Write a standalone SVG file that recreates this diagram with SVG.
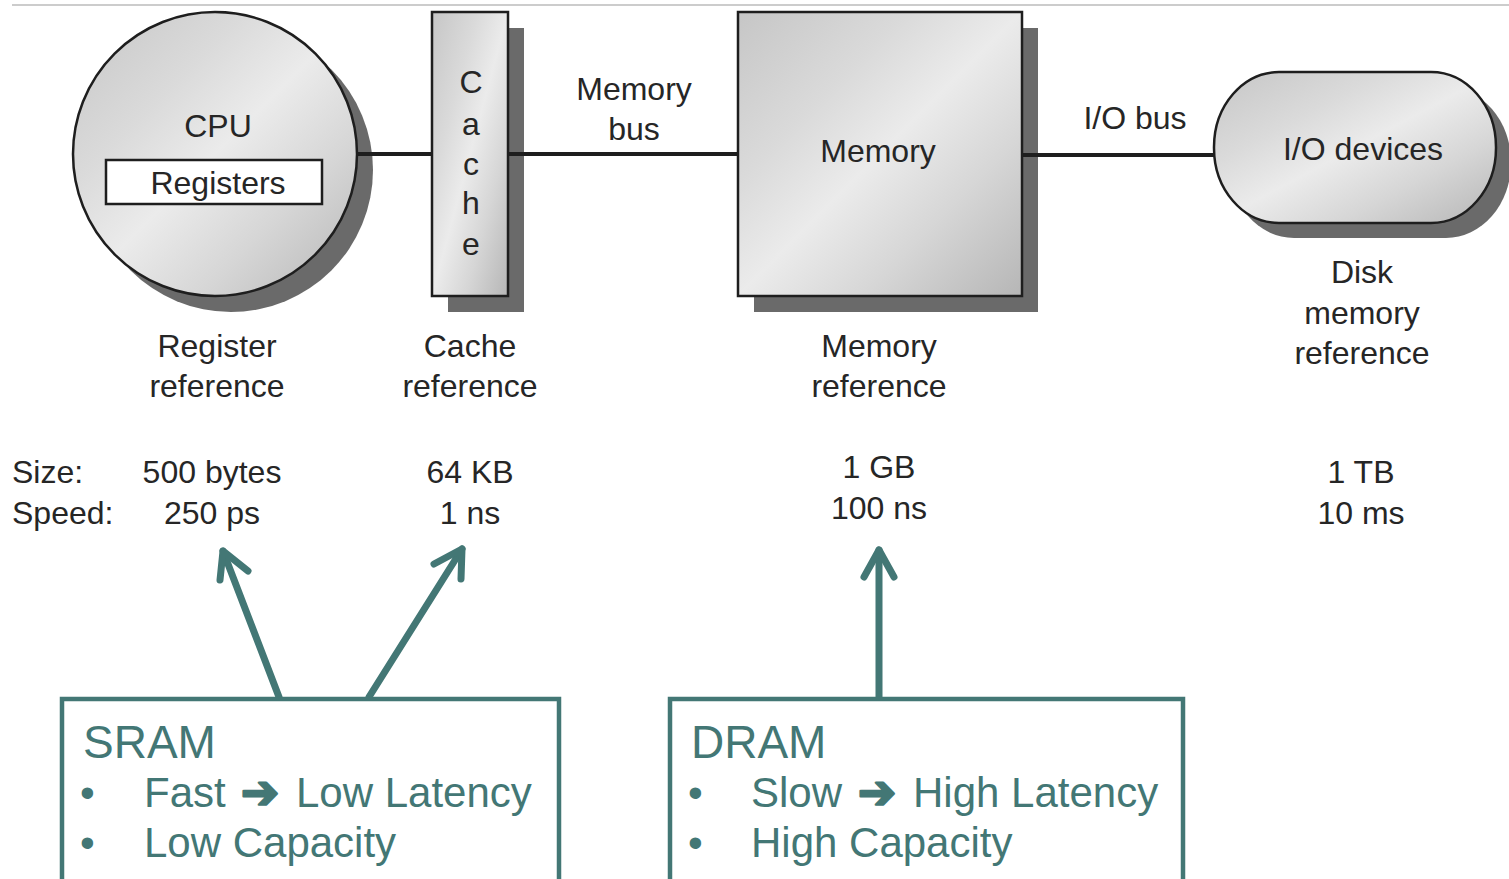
<svg xmlns="http://www.w3.org/2000/svg" width="1509" height="879" viewBox="0 0 1509 879">
  <defs>
    <linearGradient id="metal" x1="0" y1="0" x2="1" y2="1">
      <stop offset="0" stop-color="#c6c6c6"/>
      <stop offset="0.3" stop-color="#dadada"/>
      <stop offset="0.5" stop-color="#ebebeb"/>
      <stop offset="0.72" stop-color="#d6d6d6"/>
      <stop offset="1" stop-color="#b6b6b6"/>
    </linearGradient>
    <style>
      .shadow { fill: #6a6a6a; }
      .body { fill: url(#metal); stroke: #1e1e1e; stroke-width: 2.5; }
      .bus { stroke: #1e1e1e; stroke-width: 4; fill: none; }
      .lbl { font-family: "Liberation Sans", Arial, sans-serif; font-size: 32px; fill: #262626; }
      .mid { text-anchor: middle; }
      .arrow { stroke: #437775; stroke-width: 7; fill: none; stroke-linecap: round; stroke-linejoin: round; }
      .box { stroke: #437775; stroke-width: 4.5; fill: #ffffff; }
      .head { font-family: "Liberation Sans", Arial, sans-serif; font-size: 46px; fill: #437775; }
      .item { font-family: "Liberation Sans", Arial, sans-serif; font-size: 42px; fill: #437775; }
      .sym { font-family: "DejaVu Sans", sans-serif; font-weight: bold; font-size: 46px; fill: #437775; stroke: #437775; stroke-width: 2.5; stroke-linejoin: round; }
    </style>
  </defs>

  <!-- rule across the top -->
  <line x1="12" y1="5" x2="1509" y2="5" stroke="#cccccc" stroke-width="2"/>

  <g id="cpu">
    <circle class="shadow" cx="231" cy="170" r="142"/>
    <circle class="body" cx="215" cy="154" r="142"/>
    <text class="lbl mid" x="218" y="137">CPU</text>
    <rect x="106" y="160" width="216" height="44" fill="#ffffff" stroke="#1e1e1e" stroke-width="2.5"/>
    <text class="lbl mid" x="218" y="194">Registers</text>
  </g>

  <g id="cache">
    <rect class="shadow" x="448" y="28" width="76" height="284"/>
    <rect class="body" x="432" y="12" width="76" height="284"/>
    <text class="lbl mid" x="471" y="93">C</text>
    <text class="lbl mid" x="471" y="135">a</text>
    <text class="lbl mid" x="471" y="175">c</text>
    <text class="lbl mid" x="471" y="214">h</text>
    <text class="lbl mid" x="471" y="255">e</text>
  </g>

  <g id="memory-bus-label">
    <text class="lbl mid" x="634" y="100">Memory</text>
    <text class="lbl mid" x="634" y="140">bus</text>
  </g>

  <g id="memory">
    <rect class="shadow" x="754" y="28" width="284" height="284"/>
    <rect class="body" x="738" y="12" width="284" height="284"/>
    <text class="lbl mid" x="878" y="162">Memory</text>
  </g>

  <g id="io-bus-label">
    <text class="lbl mid" x="1135" y="129">I/O bus</text>
  </g>

  <g id="io-devices">
    <rect class="shadow" x="1229" y="87" width="282" height="151" rx="65" ry="75"/>
    <rect class="body" x="1214" y="72" width="282" height="151" rx="65" ry="75"/>
    <text class="lbl mid" x="1363" y="160">I/O devices</text>
  </g>

  <!-- buses, drawn over the drop shadows -->
  <g id="connectors">
    <line class="bus" x1="356" y1="154" x2="432" y2="154"/>
    <line class="bus" x1="508" y1="154" x2="738" y2="154"/>
    <line class="bus" x1="1022" y1="155" x2="1214" y2="155"/>
  </g>

  <!-- reference captions -->
  <g id="captions">
    <text class="lbl mid" x="217" y="357">Register</text>
    <text class="lbl mid" x="217" y="397">reference</text>
    <text class="lbl mid" x="470" y="357">Cache</text>
    <text class="lbl mid" x="470" y="397">reference</text>
    <text class="lbl mid" x="879" y="357">Memory</text>
    <text class="lbl mid" x="879" y="397">reference</text>
    <text class="lbl mid" x="1362" y="283">Disk</text>
    <text class="lbl mid" x="1362" y="324">memory</text>
    <text class="lbl mid" x="1362" y="364">reference</text>
  </g>

  <!-- size and speed figures -->
  <g id="figures">
    <text class="lbl" x="12" y="483">Size:</text>
    <text class="lbl" x="12" y="524">Speed:</text>
    <text class="lbl mid" x="212" y="483">500 bytes</text>
    <text class="lbl mid" x="212" y="524">250 ps</text>
    <text class="lbl mid" x="470" y="483">64 KB</text>
    <text class="lbl mid" x="470" y="524">1 ns</text>
    <text class="lbl mid" x="879" y="478">1 GB</text>
    <text class="lbl mid" x="879" y="519">100 ns</text>
    <text class="lbl mid" x="1361" y="483">1 TB</text>
    <text class="lbl mid" x="1361" y="524">10 ms</text>
  </g>

  <!-- pointers from the technology boxes -->
  <g id="pointers">
    <line class="arrow" x1="279" y1="697" x2="223" y2="551"/>
    <polyline class="arrow" points="220,580 223,551 248,571"/>
    <line class="arrow" x1="369" y1="697" x2="462" y2="549"/>
    <polyline class="arrow" points="434,564 462,549 461,579"/>
    <line class="arrow" x1="879" y1="697" x2="879" y2="550"/>
    <polyline class="arrow" points="864,577 879,550 894,577"/>
  </g>

  <g id="sram">
    <rect class="box" x="62" y="699" width="497" height="200"/>
    <text class="head" x="83" y="758">SRAM</text>
    <text class="item" x="80" y="807">•</text>
    <text class="item" x="144" y="807">Fast</text>
    <text class="sym" x="241" y="808" textLength="38" lengthAdjust="spacingAndGlyphs">➔</text>
    <text class="item" x="296" y="807">Low Latency</text>
    <text class="item" x="80" y="857">•</text>
    <text class="item" x="144" y="857">Low Capacity</text>
  </g>

  <g id="dram">
    <rect class="box" x="670" y="699" width="513" height="200"/>
    <text class="head" x="691" y="758">DRAM</text>
    <text class="item" x="688" y="807">•</text>
    <text class="item" x="751" y="807">Slow</text>
    <text class="sym" x="858" y="808" textLength="38" lengthAdjust="spacingAndGlyphs">➔</text>
    <text class="item" x="913" y="807">High Latency</text>
    <text class="item" x="688" y="857">•</text>
    <text class="item" x="751" y="857">High Capacity</text>
  </g>
</svg>
